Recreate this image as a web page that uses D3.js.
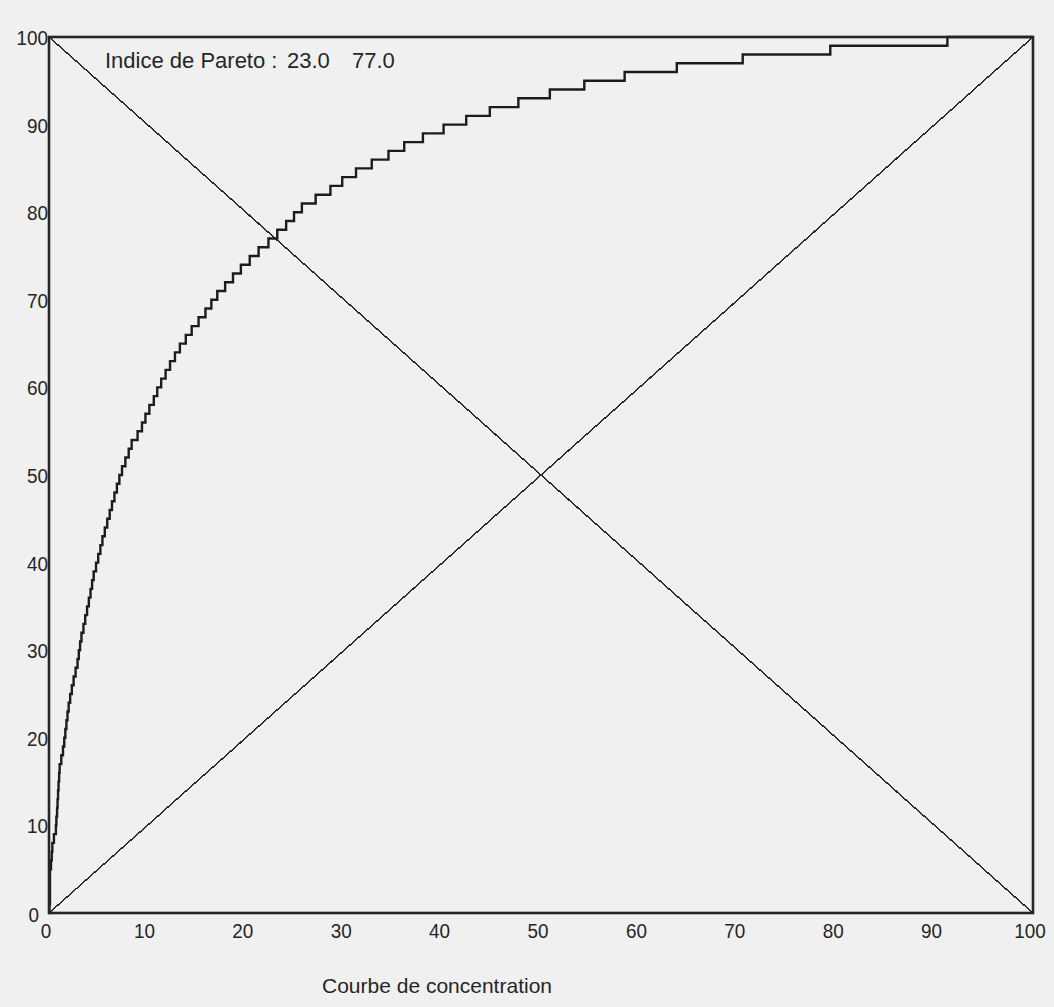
<!DOCTYPE html>
<html>
<head>
<meta charset="utf-8">
<script src="https://cdn.jsdelivr.net/npm/d3@7"></script>
<style>
  html, body { margin: 0; padding: 0; background: #f0f0f0; }
  svg { display: block; }
  text { font-family: "Liberation Sans", Arial, sans-serif; fill: #262626; }
</style>
</head>
<body>
<svg id="chart" width="1054" height="1007"></svg>
<script>
// Concentration curve: share of items (x, %) against cumulative share of the total (y, %).
// Each entry of itemShare is the x position at which the curve reaches the level in cumulShare.
const cumulShare = [
  0, 1, 2, 3, 4, 5, 6, 7, 8, 9, 10, 11, 12, 13, 14, 15, 16, 17, 18, 19, 20,
  21, 22, 23, 24, 25, 26, 27, 28, 29, 30, 31, 32, 33, 34, 35, 36, 37, 38, 39, 40,
  41, 42, 43, 44, 45, 46, 47, 48, 49, 50, 51, 52, 53, 54, 55, 56, 57, 58, 59, 60,
  61, 62, 63, 64, 65, 66, 67, 68, 69, 70, 71, 72, 73, 74, 75, 76, 77, 78, 79, 80,
  81, 82, 83, 84, 85, 86, 87, 88, 89, 90, 91, 92, 93, 94, 95, 96, 97, 98, 99, 100, 100
];
const itemShare = [
  0, 0.05, 0.1, 0.1, 0.1, 0.1, 0.2, 0.28, 0.34, 0.5, 0.7, 0.75, 0.82, 0.87, 0.92, 0.97, 1.03, 1.08, 1.25, 1.42, 1.55,
  1.66, 1.77, 1.88, 2.0, 2.15, 2.32, 2.5, 2.7, 2.9, 3.03, 3.16, 3.3, 3.5, 3.68, 3.87, 4.05, 4.22, 4.38, 4.54, 4.78,
  5.0, 5.22, 5.43, 5.67, 5.92, 6.17, 6.4, 6.65, 6.9, 7.15, 7.42, 7.76, 8.1, 8.4, 9.0, 9.45, 9.8, 10.2, 10.65, 11.0,
  11.4, 11.85, 12.3, 12.8, 13.3, 13.9, 14.5, 15.2, 15.9, 16.5, 17.1, 17.9, 18.7, 19.5, 20.4, 21.3, 22.3, 23.2, 24.1, 24.9,
  25.7, 27.1, 28.6, 29.8, 31.2, 32.8, 34.5, 36.1, 38.0, 40.1, 42.4, 44.8, 47.7, 50.9, 54.4, 58.5, 63.8, 70.5, 79.4, 91.3, 100
];

// Reference diagonals: equal distribution and the anti-diagonal used for the Pareto index
const equalityLine = [[0, 0], [100, 100]];
const paretoLine = [[0, 100], [100, 0]];

const xTicks = [0, 10, 20, 30, 40, 50, 60, 70, 80, 90, 100];
const yTicks = [0, 10, 20, 30, 40, 50, 60, 70, 80, 90, 100];

const paretoIndex = [23.0, 77.0];
const paretoLabel = "Indice de Pareto :";
const xTitle = "Courbe de concentration";

const svg = d3.select("#chart");
const plotLeft = 49, plotRight = 1033, plotTop = 37, plotBottom = 913;

const x = d3.scaleLinear().domain([0, 100]).range([plotLeft, plotRight]);
const y = d3.scaleLinear().domain([0, 100]).range([plotBottom, plotTop]);

// Diagonals (thin, aliased)
const diag = d3.line().x(d => x(d[0])).y(d => y(d[1]));
[equalityLine, paretoLine].forEach(seg => {
  svg.append("path")
    .attr("d", diag(seg))
    .attr("fill", "none")
    .attr("stroke", "#2b2b2b")
    .attr("stroke-width", 1.5)
    .attr("shape-rendering", "crispEdges");
});

// Staircase concentration curve
const pts = itemShare.map((v, i) => [v, cumulShare[i]]);
const stair = d3.line()
  .x(d => x(d[0]))
  .y(d => y(d[1]))
  .curve(d3.curveStepAfter);
svg.append("path")
  .attr("d", stair(pts))
  .attr("fill", "none")
  .attr("stroke", "#1c1c1c")
  .attr("stroke-width", 2.4)
  .attr("stroke-linejoin", "miter");

// Frame
svg.append("rect")
  .attr("x", x(0)).attr("y", y(100))
  .attr("width", x(100) - x(0)).attr("height", y(0) - y(100))
  .attr("fill", "none")
  .attr("stroke", "#262626")
  .attr("stroke-width", 2.6);

// Axes (labels only, the frame carries the lines)
const xAxis = svg.append("g")
  .attr("transform", `translate(-3.5,${plotBottom + 6})`)
  .call(d3.axisBottom(x).tickValues(xTicks).tickSize(0).tickPadding(0).tickFormat(d3.format("d")));
xAxis.select(".domain").remove();
xAxis.selectAll("text")
  .attr("font-size", 21)
  .attr("dy", "0.9em")
  .attr("transform", "scale(0.9,1)")
  .attr("fill", "#262626");

const yAxis = svg.append("g")
  .attr("transform", `translate(${plotLeft - 1},0)`)
  .call(d3.axisLeft(y).tickValues(yTicks).tickSize(0).tickPadding(0).tickFormat(d3.format("d")));
yAxis.select(".domain").remove();
yAxis.selectAll("text")
  .attr("font-size", 21)
  .attr("dy", "0.36em")
  .attr("transform", "scale(0.9,1)")
  .attr("fill", "#262626");
yAxis.selectAll(".tick").filter(d => d === 0).select("text").attr("dx", -10).attr("dy", "0.42em");
svg.selectAll("g").attr("font-family", null).attr("font-size", null);

// Pareto index annotation
const note = svg.append("text")
  .attr("y", 60)
  .attr("dy", "0.36em")
  .attr("font-size", 22);
note.append("tspan").attr("x", 105).text(paretoLabel);
note.append("tspan").attr("x", 287).text(paretoIndex[0].toFixed(1));
note.append("tspan").attr("x", 352).text(paretoIndex[1].toFixed(1));

// Axis title
svg.append("text")
  .attr("x", 322)
  .attr("y", 985)
  .attr("dy", "0.36em")
  .attr("font-size", 21)
  .text(xTitle);
</script>
</body>
</html>
